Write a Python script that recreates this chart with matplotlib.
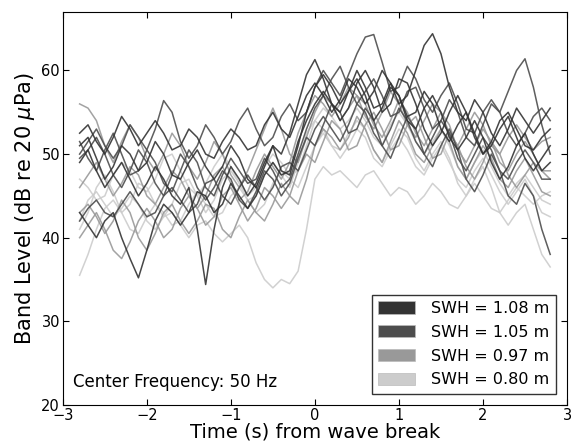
import matplotlib
matplotlib.use('Agg')
import matplotlib.patches as mpatches
import matplotlib.pyplot as plt
import numpy as np

# sample times (s) relative to wave break, 0.1 s step
t = np.linspace(-2.8, 2.8, 57)

swh_labels = ['SWH = 1.08 m', 'SWH = 1.05 m', 'SWH = 0.97 m', 'SWH = 0.80 m']
swh_colors = ['#333333', '#4d4d4d', '#999999', '#cccccc']

# band levels (dB re 20 uPa), four recordings per wave height
swh_108 = [
    [52.5, 53.5, 51.5, 50, 52, 54.5, 53, 51, 52.5, 54,
     52.5, 50.5, 51, 53, 52, 50, 49.5, 51.5, 53, 52,
     50.5, 51, 53.5, 55, 53, 52, 54.5, 57, 58.5, 57,
     55, 56.5, 59, 58, 56, 57.5, 60, 58.5, 56, 57,
     60, 63, 64.4, 62, 58, 55, 54, 56.5, 55, 52.5,
     51, 53, 55.5, 54, 52.5, 54, 55.5],
    [49, 50.5, 48, 46, 47.5, 49, 47, 45, 46.5, 48.5,
     47, 45, 44, 46, 41, 34.4, 41, 46, 48.5, 47,
     45, 46.5, 49, 51, 48, 47.5, 51, 55, 58, 59.5,
     58, 56, 57.5, 60, 58, 55.5, 56, 58.5, 57, 54,
     53, 55.5, 57, 55, 52, 50.5, 52, 54, 52, 49,
     47, 48.5, 51, 52.5, 50, 48, 49],
    [51, 52, 49.5, 47, 48.5, 51, 50, 48, 49, 51.5,
     50, 47.5, 47, 49, 50.5, 48.5, 47, 48.5, 51, 49.5,
     47, 46, 48.5, 51, 50, 52.5, 56, 59.5, 61.3, 59,
     56, 55, 57.5, 59, 57, 54, 55.5, 58, 57, 54.5,
     55, 57.5, 56, 53, 51.5, 53.5, 55, 52.5, 50, 51,
     53, 54.5, 52, 49.5, 48, 49.5, 51],
    [43, 41.5, 40, 42, 43, 40, 37.5, 35.2, 38.5, 42,
     44, 43, 41.5, 43, 45.5, 45, 43, 44, 46.5, 45,
     43.5, 45, 47.5, 49, 47.5, 48, 51.5, 54, 56, 57.5,
     56, 54, 55.5, 58.5, 60, 58, 55, 56, 59, 58.5,
     56, 53, 51, 52.5, 55, 57, 55, 52, 50, 51.5,
     54, 55, 53, 51, 50.5, 52, 53],
]
swh_105 = [
    [50, 51.5, 53, 51, 49.5, 51, 53.5, 52, 50.5, 53,
     56.4, 55, 51.5, 49.5, 51, 53.5, 52, 50, 51.5, 54,
     55.5, 53, 51, 52, 54.5, 56, 54, 55, 58, 60,
     58.5, 57, 59.5, 62, 64, 64.3, 61, 57.5, 58, 60.5,
     59, 56.5, 55, 57, 58.5, 56, 53, 52.5, 55, 56.5,
     55, 52.5, 51, 52.5, 54.5, 55.5, 54],
    [51.5, 49.5, 48, 50.5, 52.5, 50, 47.5, 48, 50.5, 49,
     46.5, 45.5, 48, 50.5, 49, 46, 45, 47.5, 49.5, 48,
     46.5, 47, 49.5, 48, 46, 47, 50, 53, 55.5, 57,
     59, 60.5, 58, 56, 57.5, 59, 57, 54.5, 55, 57.5,
     58, 55.5, 53, 54, 56.5, 55, 52, 51, 53.5, 56,
     55, 57.5, 60, 61.4, 58, 53.5, 50],
    [42, 43.5, 44.5, 43, 42.5, 44, 45.5, 44, 42.5, 43,
     45, 46, 44.5, 43, 44, 46.5, 47, 45, 44, 46,
     47.5, 46, 44.5, 46, 48.5, 49, 48, 50.5, 53, 54.5,
     53, 51.5, 53.5, 56, 55, 52.5, 51, 53, 55.5, 54,
     51.5, 50, 52, 54, 52.5, 49.5, 48, 50, 52, 50.5,
     48, 47, 49, 50.5, 49, 47, 47],
    [49.5, 50.5, 52, 50, 47.5, 46, 48, 50.5, 49, 46.5,
     45, 47.5, 50, 48.5, 46, 44.5, 46, 48, 47, 44.5,
     43.5, 45.5, 48, 47, 45, 46.5, 49.5, 52, 51, 53.5,
     56, 55, 52.5, 53, 55.5, 54, 51, 49.5, 52, 54.5,
     53, 50, 48.5, 51, 53, 50.5, 47, 45.5, 47.5, 50,
     48, 45, 44, 46.5, 45, 41, 38],
]
swh_097 = [
    [56, 55.5, 54, 51, 49, 51.5, 53.5, 52, 49.5, 48,
     50, 52.5, 51, 48.5, 47, 49, 51.5, 50, 47.5, 46,
     48, 50.5, 53, 55.5, 53, 50, 49, 52, 55, 57,
     56, 54, 55.5, 57, 56, 53.5, 52, 54, 56.5, 55,
     52.5, 51, 53, 55, 53.5, 50.5, 49, 51, 53, 51.5,
     49, 48, 50, 51.5, 50, 48, 48],
    [43, 44, 42.5, 40.5, 42, 44.5, 43, 40, 38.5, 40.5,
     43, 44, 42, 40.5, 42, 44, 43.5, 41, 40, 42.5,
     44.5, 43, 42, 44, 46.5, 45, 44, 47, 51, 53,
     52, 50.5, 52, 54.5, 53, 50.5, 49, 51.5, 54, 52.5,
     50, 49, 51, 53, 51.5, 48.5, 47, 49, 51, 49.5,
     47, 46, 48, 49.5, 47.5, 45.5, 45],
    [40, 41.5, 43, 41, 38.5, 37.5, 39.5, 42, 43.5, 42,
     40, 41, 43.5, 45, 43.5, 41.5, 42.5, 45, 46, 44,
     42, 43.5, 46, 45, 43.5, 45, 48, 50, 49, 51.5,
     54, 53, 50.5, 51, 53.5, 55, 53, 50.5, 51, 53.5,
     54.5, 52, 49.5, 50, 52.5, 51, 48.5, 47, 49, 51.5,
     50, 47.5, 46, 47.5, 49, 48, 47],
    [46, 47.5, 49, 47, 45, 46.5, 48.5, 47.5, 45, 44,
     46, 48, 47, 45, 43.5, 45, 47.5, 48.5, 46.5, 44.5,
     45.5, 48, 50, 48.5, 47, 49, 52.5, 55, 57, 56,
     54.5, 56, 58, 57, 54.5, 53, 55, 57.5, 56, 53.5,
     52, 54, 56, 55, 52.5, 51, 53, 55, 53.5, 51,
     50, 52, 53.5, 52, 50.5, 51.5, 52],
]
swh_080 = [
    [35.5, 38, 41, 43.5, 44.5, 43, 41, 40.5, 42.5, 44,
     43, 41.5, 42, 44, 45.5, 44, 42.5, 43, 45, 46,
     44.5, 43, 44, 46.5, 48, 47, 46, 48.5, 51, 52.5,
     51, 49.5, 51, 53, 52, 49.5, 48.5, 50.5, 52, 50.5,
     48.5, 47.5, 49.5, 51, 49, 47, 46, 48, 49.5, 47.5,
     45.5, 44, 45.5, 47, 45, 43, 42.5],
    [42, 44.5, 45.5, 44, 42.5, 43.5, 45, 44, 42, 41,
     42.5, 43, 41.5, 40, 41.5, 42, 40.5, 39.5, 40.5, 41.5,
     40, 37, 35, 34, 35, 34.5, 36, 41, 47, 48.5,
     47.5, 48, 47, 46, 47.5, 48, 46.5, 45, 46, 45.5,
     44, 45, 46.5, 45.5, 44, 43.5, 45, 46.5, 45, 43.5,
     43, 44.5, 46, 45, 44, 45, 45.5],
    [41, 43, 46, 47.5, 45.5, 43, 44, 46.5, 46, 44,
     42.5, 44, 46.5, 47, 45, 43, 44.5, 47, 48, 46.5,
     44.5, 45, 47.5, 49, 47.5, 46, 49, 52.5, 54, 53,
     51, 50.5, 52.5, 54, 53, 50.5, 49, 51, 53, 52,
     49.5, 48, 50, 51.5, 49.5, 46.5, 45, 47, 48.5, 46,
     43, 41.5, 43, 44, 41, 38, 36.5],
    [47, 46, 44.5, 45, 47.5, 49, 48, 46, 45.5, 47,
     49.5, 50, 48, 46, 45, 46.5, 48.5, 50, 48.5, 46.5,
     45, 46, 48.5, 50, 49, 47.5, 48, 51, 54, 55.5,
     54.5, 53, 54, 55.5, 54, 52, 51, 53.5, 55, 53.5,
     51.5, 50, 51.5, 53, 51, 48.5, 47, 49, 50.5, 48.5,
     46.5, 45, 46.5, 47.5, 46, 44.5, 44],
]

groups = [swh_108, swh_105, swh_097, swh_080]

fig = plt.figure(figsize=(5.71, 4.43), dpi=100)
ax = fig.add_axes([0.110, 0.086, 0.883, 0.887])

# lightest group first so darker curves sit on top
for lines, color in reversed(list(zip(groups, swh_colors))):
    for y in lines:
        ax.plot(t, y, color=color, lw=1.1, alpha=0.9)

ax.set_xlim(-3, 3)
ax.set_ylim(20, 67)
ax.set_xticks(np.arange(-3, 4, 1))
ax.set_yticks(np.arange(20, 61, 10))
ax.tick_params(direction='in', top=True, right=True, labelsize=10.5,
               length=4, pad=2)

ax.set_xlabel('Time (s) from wave break', fontsize=14, labelpad=0)
ax.set_ylabel(r'Band Level (dB re 20 $\mu$Pa)', fontsize=15, labelpad=3)

ax.text(0.02, 0.035, 'Center Frequency: 50 Hz', transform=ax.transAxes,
        fontsize=12, ha='left', va='bottom')

handles = [mpatches.Patch(facecolor=c, edgecolor='#bbbbbb', lw=0.5, label=l)
           for c, l in zip(swh_colors, swh_labels)]
leg = ax.legend(handles=handles, loc='lower right', fontsize=11.5,
                fancybox=False, borderaxespad=0.7, handlelength=2.3,
                handleheight=0.8, labelspacing=0.55, borderpad=0.4,
                handletextpad=1.0)
leg.get_frame().set_edgecolor('black')
leg.get_frame().set_linewidth(1.0)

fig.savefig('out.png', dpi=100)
